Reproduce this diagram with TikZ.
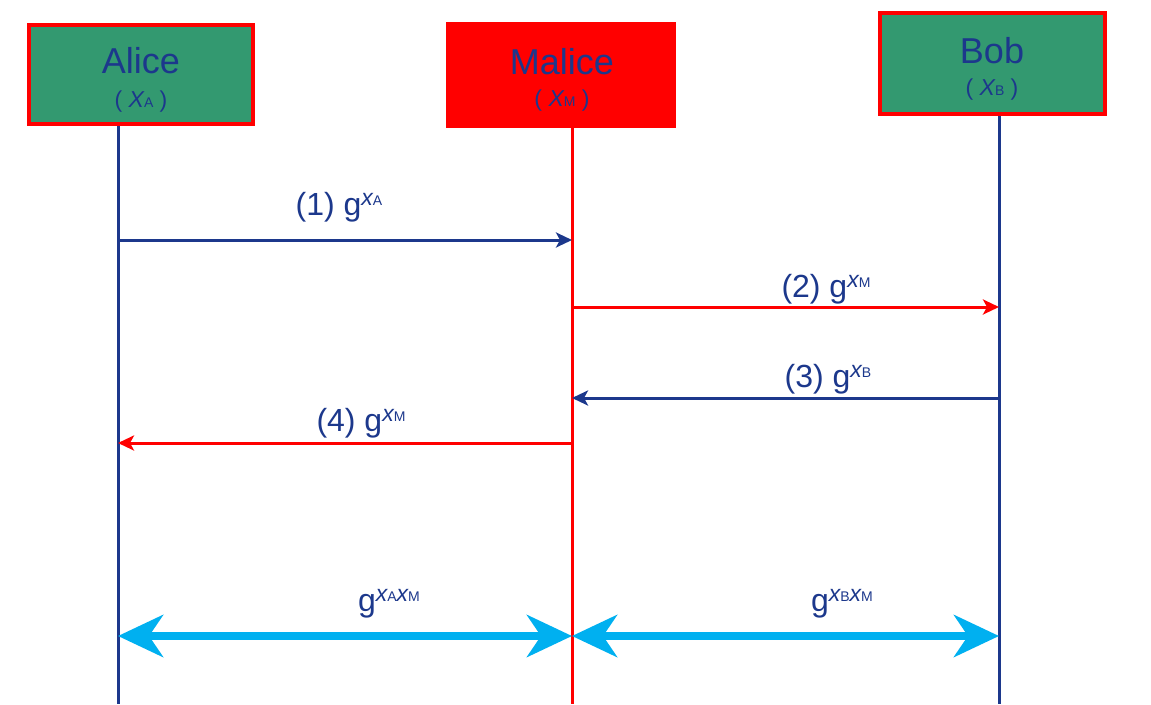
\documentclass[tikz,border=0pt]{standalone}
\usepackage{fontspec}
\setmainfont{Liberation Sans}
\usetikzlibrary{arrows.meta}
\definecolor{navy}{RGB}{28,56,140}
\definecolor{boxgreen}{RGB}{51,153,112}
\definecolor{cyanarr}{RGB}{0,176,240}
\newcommand\nmfont{\fontsize{36}{40}\selectfont}
\newcommand\lblfont{\fontsize{32}{35}\selectfont}
\newcommand\supx[1]{\raisebox{10pt}{\fontsize{23}{23}\selectfont\itshape x\upshape\fontsize{14}{14}\selectfont #1}}
\newcommand\hdx[1]{{\fontsize{23}{23}\selectfont ( {\itshape X}}{\fontsize{14}{14}\selectfont #1}{\fontsize{23}{23}\selectfont\ )}}
\begin{document}
\begin{tikzpicture}[x=1pt,y=-1pt,
  actor/.style={draw=red, line width=4pt, minimum width=#1, minimum height=100pt, inner sep=0pt},
  txt/.style={text=navy, anchor=base, inner sep=0pt},
  life/.style={line width=3pt},
  msg/.style={line width=3pt, -{Stealth[length=16pt, width=15pt, inset=4pt]}},
  shared/.style={cyanarr, line width=8pt, {Stealth[length=45pt, width=42pt, inset=14pt]}-{Stealth[length=45pt, width=42pt, inset=14pt]}}
]
\useasboundingbox (0,0) rectangle (1151,704);
\fill[white] (0,0) rectangle (1151,704);

% actor boxes
\node[actor=224pt, fill=boxgreen, minimum height=99pt] (alice) at (141,74.5) {};
\node[actor=226pt, fill=red, minimum height=102pt] (malice) at (561,75) {};
\node[actor=225pt, fill=boxgreen, minimum height=101pt] (bob) at (992.5,63.5) {};

\node[txt] (aliceName) at (141,73) {\nmfont Alice};
\node[txt] (aliceKey) at (141,107) {\hdx{A}};
\node[txt] (maliceName) at (562,74) {\nmfont Malice};
\node[txt] (maliceKey) at (562,106) {\hdx{M}};
\node[txt] (bobName) at (992,63) {\nmfont Bob};
\node[txt] (bobKey) at (992,95) {\hdx{B}};

% lifeline ends
\coordinate (aE) at (118,704);
\coordinate (mE) at (572,704);
\coordinate (bE) at (999,704);
\draw[life, navy] (alice.south -| aE) -- (aE);
\draw[life, red] (malice.south -| mE) -- (mE);
\draw[life, navy] (bob.south -| bE) -- (bE);

% message points
\coordinate (a1) at (118,240); \coordinate (m1) at (572,240);
\coordinate (m2) at (572,307); \coordinate (b2) at (999,307);
\coordinate (b3) at (999,398); \coordinate (m3) at (572,398);
\coordinate (m4) at (572,443); \coordinate (a4) at (118,443);
\coordinate (a5) at (118,636); \coordinate (m5) at (572,636); \coordinate (b5) at (999,636);

\draw[msg, navy] (a1) -- (m1);
\draw[msg, red] (m2) -- (b2);
\draw[msg, navy] (b3) -- (m3);
\draw[msg, red] (m4) -- (a4);
\draw[shared] (a5) -- (m5);
\draw[shared] (m5) -- (b5);

% labels
\node[txt] (l1) at (339,215) {\lblfont (1) g\supx{A}};
\node[txt] (l2) at (826,297) {\lblfont (2) g\supx{M}};
\node[txt] (l3) at (828,387) {\lblfont (3) g\supx{B}};
\node[txt] (l4) at (361,431) {\lblfont (4) g\supx{M}};
\node[txt] (l5) at (389,611) {\lblfont g\supx{A}\supx{M}};
\node[txt] (l6) at (842,611) {\lblfont g\supx{B}\supx{M}};
\end{tikzpicture}
\end{document}
